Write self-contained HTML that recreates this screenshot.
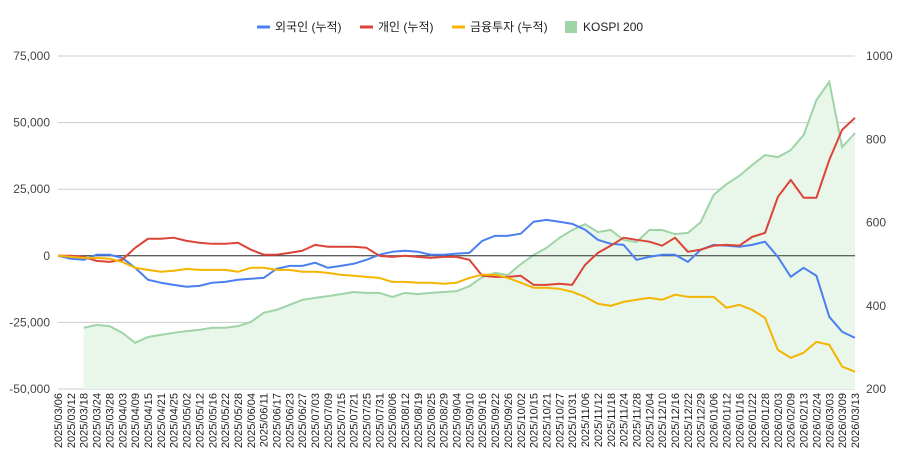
<!DOCTYPE html>
<html><head><meta charset="utf-8"><style>
html,body{margin:0;padding:0;background:#fff;}
svg{display:block;font-family:"Liberation Sans","Noto Sans CJK KR",sans-serif;}
</style></head><body>
<svg id="chart" width="898" height="467">
<g id="legend" font-size="12" fill="#222">
 <g><line x1="257" y1="27" x2="270" y2="27" stroke="#4a7ff0" stroke-width="3"/><text x="275" y="31">외국인 (누적)</text></g>
 <g><line x1="360" y1="27" x2="373" y2="27" stroke="#db4437" stroke-width="3"/><text x="378" y="31">개인 (누적)</text></g>
 <g><line x1="452" y1="27" x2="465" y2="27" stroke="#f4b400" stroke-width="3"/><text x="470" y="31">금융투자 (누적)</text></g>
 <g><rect x="565" y="21" width="12" height="12" fill="#9fd4a8"/><text x="583" y="31">KOSPI 200</text></g>
</g>
<g id="grid"></g>
<g id="area"></g>
<g id="lines"></g>
<g id="axes"></g>
</svg>
<script>
const labels=["2025/03/06","2025/03/12","2025/03/18","2025/03/24","2025/03/28","2025/04/03","2025/04/09","2025/04/15","2025/04/21","2025/04/25","2025/05/02","2025/05/12","2025/05/16","2025/05/22","2025/05/28","2025/06/04","2025/06/11","2025/06/17","2025/06/23","2025/06/27","2025/07/03","2025/07/09","2025/07/15","2025/07/21","2025/07/25","2025/07/31","2025/08/06","2025/08/12","2025/08/19","2025/08/25","2025/08/29","2025/09/04","2025/09/10","2025/09/16","2025/09/22","2025/09/26","2025/10/02","2025/10/15","2025/10/21","2025/10/27","2025/10/31","2025/11/06","2025/11/12","2025/11/18","2025/11/24","2025/11/28","2025/12/04","2025/12/10","2025/12/16","2025/12/22","2025/12/29","2026/01/06","2026/01/12","2026/01/16","2026/01/22","2026/01/28","2026/02/03","2026/02/09","2026/02/13","2026/02/24","2026/03/03","2026/03/09","2026/03/13"];
const foreign=[0,-1100,-1500,400,400,-800,-4500,-9000,-10100,-10900,-11600,-11300,-10100,-9800,-9000,-8600,-8300,-4900,-3800,-3800,-2600,-4500,-3800,-3000,-1500,400,1500,1900,1500,400,400,800,1100,5600,7500,7500,8300,12800,13500,12800,12000,9800,6000,4500,4100,-1500,-400,400,400,-2300,2300,4100,3800,3400,4100,5300,-400,-7900,-4500,-7500,-22900,-28500,-30800];
const individual=[0,0,-400,-1900,-2300,-1500,3000,6400,6400,6800,5600,4900,4500,4500,4900,2300,400,400,1100,1900,4100,3400,3400,3400,3000,0,-400,0,-400,-800,-400,-400,-1500,-7500,-7900,-7900,-7500,-10900,-10900,-10500,-10900,-3400,1100,3800,6800,6000,5300,3800,6800,1500,2300,3800,4100,3800,7100,8600,22100,28500,21800,21800,36000,47300,51800];
const finance=[0,-400,-800,-800,-1100,-2300,-4500,-5300,-6000,-5600,-4900,-5300,-5300,-5300,-6000,-4500,-4500,-5300,-5300,-6000,-6000,-6400,-7100,-7500,-7900,-8300,-9800,-9800,-10100,-10100,-10500,-10100,-8300,-7100,-7100,-8300,-10100,-12000,-12000,-12400,-13500,-15400,-18000,-18800,-17300,-16500,-15800,-16500,-14600,-15400,-15400,-15400,-19500,-18400,-20300,-23300,-35300,-38300,-36400,-32300,-33400,-41600,-43500];
const kospi=[null,null,347,354,351,335,311,325,330,335,339,342,347,347,351,361,383,390,402,414,419,423,428,433,431,431,421,431,428,431,433,435,447,469,479,474,500,522,539,563,582,596,577,582,558,553,582,582,572,575,601,666,692,712,738,762,757,774,810,894,938,781,815];
const leftTicks=[75000,50000,25000,0,-25000,-50000];
const rightTicks=[1000,800,600,400,200];

const NS="http://www.w3.org/2000/svg";
const X0=58,X1=855,YT=56,YB=389;
const xs=i=>X0+i*(X1-X0)/(labels.length-1);
const yL=v=>YT+(75000-v)/125000*(YB-YT);
const yR=v=>YT+(1000-v)/800*(YB-YT);
function mk(tag,attrs,parent){const e=document.createElementNS(NS,tag);for(const k in attrs)e.setAttribute(k,attrs[k]);parent.appendChild(e);return e;}
const grid=document.getElementById('grid'),axes=document.getElementById('axes'),area=document.getElementById('area'),lines=document.getElementById('lines');
const fmt=v=>v.toLocaleString('en-US');
leftTicks.forEach(v=>{
 const g=mk('line',{x1:X0,x2:X1,y1:yL(v),y2:yL(v),stroke:'#cccccc','stroke-width':1},grid);
 
 
 const t=mk('text',{x:50,y:yL(v)+4,'text-anchor':'end','font-size':12,fill:'#444'},axes);
 t.textContent=fmt(v);
 
 
});
rightTicks.forEach(v=>{
 const t=mk('text',{x:866,y:yR(v)+4,'font-size':12,fill:'#444'},axes);
 t.textContent=v;
 
 
});
labels.forEach((l,i)=>{
 const x=xs(i)+4,y=393;
 const t=mk('text',{x:x,y:y,'text-anchor':'end','font-size':11,fill:'#222',transform:`rotate(-90 ${x} ${y})`},axes);
 t.textContent=l;
 
 
});
// KOSPI area
let pts=[];kospi.forEach((v,i)=>{if(v!=null)pts.push([xs(i),yR(v)]);});
let d='M'+pts[0][0]+','+YB+' '+pts.map(p=>'L'+p[0]+','+p[1]).join(' ')+' L'+pts[pts.length-1][0]+','+YB+'Z';
const a=mk('path',{d:d,fill:'#e9f6ea',stroke:'none'},area);


const kl=mk('path',{d:'M'+pts.map(p=>p[0]+','+p[1]).join(' L'),fill:'none',stroke:'#9fd4a8','stroke-width':2},area);


const z=mk('line',{x1:X0,x2:X1,y1:yL(0),y2:yL(0),stroke:'#333','stroke-width':1},area);


[[foreign,'#4a7ff0','foreign-line'],[individual,'#db4437','individual-line'],[finance,'#f4b400','finance-line']].forEach(([s,c,n])=>{
 const p=mk('path',{d:'M'+s.map((v,i)=>xs(i)+','+yL(v)).join(' L'),fill:'none',stroke:c,'stroke-width':2,'stroke-linejoin':'round'},lines);
 
 
});
</script>
</body></html>
